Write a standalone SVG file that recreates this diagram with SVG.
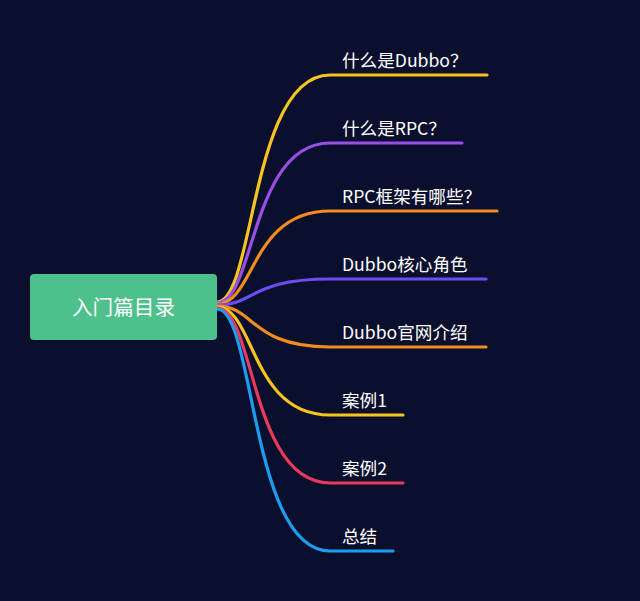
<svg xmlns="http://www.w3.org/2000/svg" width="640" height="601" viewBox="0 0 640 601">
<style>
.bg{fill:#0b0f2e}
.br{fill:none;stroke-width:3.2;stroke-linecap:round;stroke-linejoin:round}
.lbl{font-family:"Noto Sans CJK SC","Noto Sans",sans-serif;font-size:17.6px;fill:#ffffff}
.root{fill:#4dc08c}
.rt{font-family:"Noto Sans CJK SC","Noto Sans",sans-serif;font-size:20.6px;fill:#ffffff;text-anchor:middle}
</style>
<rect class="bg" x="0" y="0" width="640" height="601"/>
<g id="connectors">
<path class="br" stroke="#f7c41f" d="M217,302 C255,302 250,75 330,75 L487,75"/>
<path class="br" stroke="#9a4ee8" d="M217,303 C255,303 250,143 330,143 L462,143"/>
<path class="br" stroke="#f28c1e" d="M217,304 C255,304 250,211 330,211 L497,211"/>
<path class="br" stroke="#6b4ef0" d="M217,305 C255,305 250,279 330,279 L486,279"/>
<path class="br" stroke="#f28c1e" d="M217,306 C255,306 250,347 330,347 L486,347"/>
<path class="br" stroke="#f7c41f" d="M217,307 C255,307 250,415 330,415 L403,415"/>
<path class="br" stroke="#e83a5c" d="M217,308 C255,308 250,483 330,483 L403,483"/>
<path class="br" stroke="#1e9cf0" d="M217,309 C255,309 250,551 330,551 L393,551"/>
</g>
<g id="root">
<rect class="root" x="30" y="274" width="187" height="66" rx="4"/>
<text class="rt" x="123.5" y="315">入门篇目录</text>
</g>
<g id="n1"><text class="lbl" x="342" y="67">什么是Dubbo？</text></g>
<g id="n2"><text class="lbl" x="342" y="135">什么是RPC？</text></g>
<g id="n3"><text class="lbl" x="342" y="203">RPC框架有哪些？</text></g>
<g id="n4"><text class="lbl" x="342" y="271">Dubbo核心角色</text></g>
<g id="n5"><text class="lbl" x="342" y="339">Dubbo官网介绍</text></g>
<g id="n6"><text class="lbl" x="342" y="407">案例1</text></g>
<g id="n7"><text class="lbl" x="342" y="475">案例2</text></g>
<g id="n8"><text class="lbl" x="342" y="543">总结</text></g>
</svg>
